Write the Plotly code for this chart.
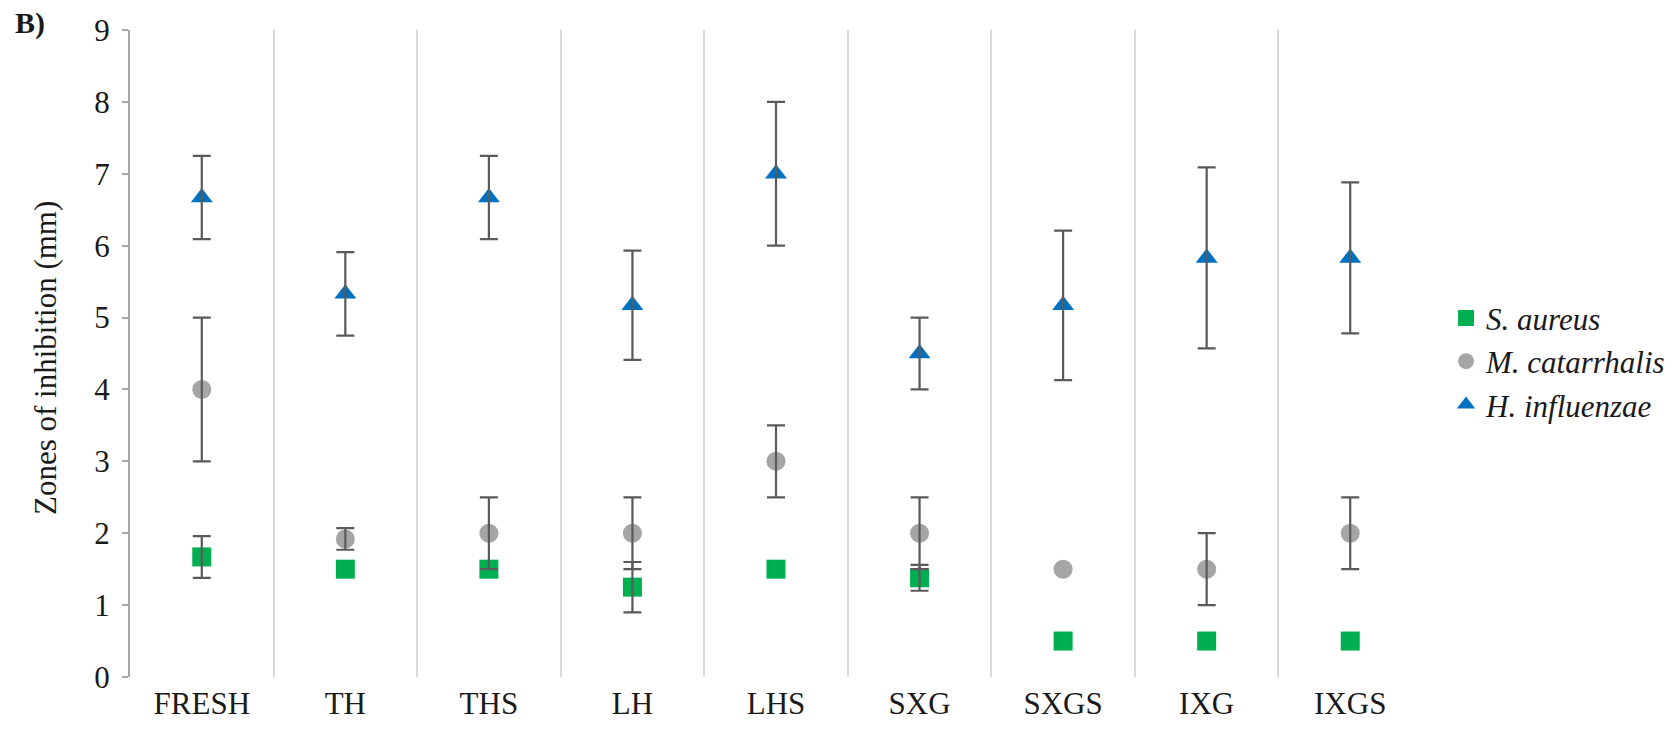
import plotly.graph_objects as go

# Sample preparations (x categories)
samples = ["FRESH", "TH", "THS", "LH", "LHS", "SXG", "SXGS", "IXG", "IXGS"]

# Mean zones of inhibition (mm) and their error values per organism
s_aureus = [1.67, 1.5, 1.5, 1.25, 1.5, 1.38, 0.5, 0.5, 0.5]
s_aureus_err = [0.29, None, None, 0.35, None, 0.18, None, None, None]

m_catarrhalis = [4.0, 1.92, 2.0, 2.0, 3.0, 2.0, 1.5, 1.5, 2.0]
m_catarrhalis_err = [1.0, 0.15, 0.5, 0.5, 0.5, 0.5, None, 0.5, 0.5]

h_influenzae = [6.67, 5.33, 6.67, 5.17, 7.0, 4.5, 5.17, 5.83, 5.83]
h_influenzae_err = [0.58, 0.58, 0.58, 0.76, 1.0, 0.5, 1.04, 1.26, 1.05]

y_ticks = [0, 1, 2, 3, 4, 5, 6, 7, 8, 9]

SERIF = "Liberation Serif, 'Times New Roman', Times, serif"
TEXT_COLOR = "#1a1a1a"
ERR_COLOR = "#5a5a5a"

series = [
    ("S. aureus", s_aureus, s_aureus_err, "square", "#00b050"),
    ("M. catarrhalis", m_catarrhalis, m_catarrhalis_err, "circle", "#a5a5a5"),
    ("H. influenzae", h_influenzae, h_influenzae_err, "triangle-up", "#0070c0"),
]

fig = go.Figure()

# Markers for each organism
for name, vals, _, symbol, color in series:
    fig.add_trace(go.Scatter(
        x=samples, y=vals, mode="markers", name=name,
        marker=dict(symbol=symbol, size=19, color=color, line=dict(width=0)),
    ))

# Error bars (only where a value exists), drawn on top of the markers
for name, vals, err, _, _ in series:
    keep = [i for i, e in enumerate(err) if e is not None]
    fig.add_trace(go.Scatter(
        x=[samples[i] for i in keep], y=[vals[i] for i in keep],
        mode="markers", showlegend=False, hoverinfo="skip",
        marker=dict(size=1, opacity=0),
        error_y=dict(type="data", array=[err[i] for i in keep], symmetric=True,
                     color=ERR_COLOR, thickness=2.2, width=9),
    ))

fig.update_layout(
    width=1676, height=740,
    margin=dict(l=130, r=254, t=30, b=63, autoexpand=False),
    paper_bgcolor="white", plot_bgcolor="white",
    font=dict(family=SERIF, size=31, color=TEXT_COLOR),
    showlegend=True,
    legend=dict(
        x=1.0186, xanchor="left", y=0.488, yanchor="middle",
        font=dict(family=SERIF, size=31, color=TEXT_COLOR, style="italic"),
        bgcolor="rgba(0,0,0,0)", itemwidth=30,
    ),
    xaxis=dict(
        type="category", categoryorder="array", categoryarray=samples,
        range=[-0.5, len(samples) - 0.5],
        tickson="boundaries", showgrid=True, gridcolor="#d9d9d9", gridwidth=2,
        ticks="", showline=False, zeroline=False,
        tickfont=dict(family=SERIF, size=31, color=TEXT_COLOR),
        ticklabelstandoff=5,
    ),
    yaxis=dict(
        range=[0, 9], tickvals=y_ticks, ticktext=[str(v) for v in y_ticks],
        showgrid=False, zeroline=False,
        showline=True, linecolor="#a6a6a6", linewidth=2,
        ticks="outside", ticklen=6, tickcolor="#a6a6a6", tickwidth=2,
        tickfont=dict(family=SERIF, size=31, color=TEXT_COLOR),
        ticklabelstandoff=6,
    ),
    annotations=[
        dict(text="<b>B)</b>", xref="paper", yref="paper", x=-0.0774, y=1.011,
             xanchor="center", yanchor="middle", showarrow=False,
             font=dict(family=SERIF, size=30, color=TEXT_COLOR)),
        dict(text="Zones of inhibition (mm)", xref="paper", yref="paper",
             x=-0.0658, y=0.493, xanchor="center", yanchor="middle",
             textangle=-90, showarrow=False,
             font=dict(family=SERIF, size=31, color=TEXT_COLOR)),
    ],
)

fig.write_html("out.html")
